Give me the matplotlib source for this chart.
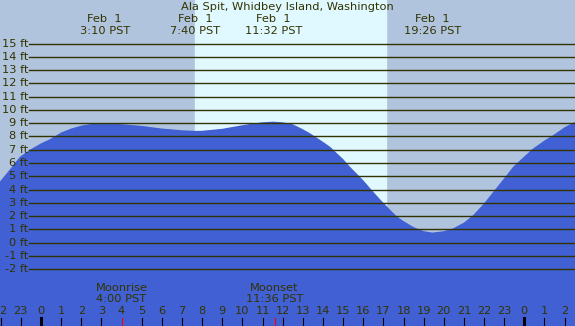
import numpy as np
import matplotlib.pyplot as plt

# tide heights (ft), hours relative to midnight Feb 1
hours = [-2.04, -1.5, -1.04, -0.55, 0, 0.45, 1, 1.5, 2, 2.5, 3, 3.5, 4, 5, 6, 7, 7.67, 8, 9, 10,
         10.5, 11, 11.53, 12, 12.5, 13, 13.36, 14, 14.35, 15, 15.34, 16, 16.34, 16.83, 17.33,
         17.66, 18, 18.49, 19, 19.43, 20, 20.47, 21, 21.47, 22, 22.46, 23, 23.45, 24, 24.44,
         25, 25.44, 26, 26.52]
heights = [4.6, 5.6, 6.48, 7.0, 7.48, 7.8, 8.3, 8.6, 8.82, 8.95, 9.0, 8.98, 8.93, 8.8, 8.6, 8.47,
           8.42, 8.43, 8.58, 8.85, 8.97, 9.07, 9.12, 9.07, 8.92, 8.55, 8.24, 7.6, 7.23, 6.3,
           5.72, 4.7, 4.1, 3.27, 2.48, 1.98, 1.62, 1.17, 0.86, 0.75, 0.85, 1.07, 1.5, 2.08,
           2.95, 3.83, 4.85, 5.72, 6.5, 7.1, 7.7, 8.11, 8.7, 9.1]

title = "Ala Spit, Whidbey Island, Washington"
event_hours = [3 + 10/60, 7 + 40/60, 11 + 32/60, 19 + 26/60]
event_labels = ["3:10 PST", "7:40 PST", "11:32 PST", "19:26 PST"]
sunrise, sunset = 7 + 40/60, 17.13
moon_hours = [4.0, 11 + 36/60]
moon_names = ["Moonrise", "Moonset"]
moon_times = ["4:00 PST", "11:36 PST"]
ft_levels = list(range(-2, 16))
tick_hours = list(range(-2, 27))

night = '#b0c4de'
day = '#e0f8ff'
water = '#4060d4'
ink = '#333300'

fig = plt.figure(figsize=(5.75, 3.26), dpi=100)
ax = fig.add_axes([0, 0, 1, 1])
x0, x1 = -2.036, 26.515
y0, y1 = -6.30, 18.30
ax.set_xlim(x0, x1)
ax.set_ylim(y0, y1)
ax.axis('off')

ax.axvspan(x0, x1, color=night, zorder=0)
ax.axvspan(sunrise, sunset, color=day, zorder=0)
ax.fill_between(hours, heights, y0, color=water, lw=0, zorder=1)

fs = 8.2
for lv in ft_levels:
    ax.plot([-0.6, x1], [lv, lv], color=ink, lw=1.0, zorder=2)
    ax.text(-0.64, lv, f"{lv} ft", ha='right', va='center', fontsize=fs, color=ink)

ax.text((x0 + x1) / 2, 17.78, title, ha='center', va='center', fontsize=fs, color=ink)
for h, lab in zip(event_hours, event_labels):
    ax.text(h, 16.9, "Feb  1", ha='center', va='center', fontsize=fs, color=ink)
    ax.text(h, 15.98, lab, ha='center', va='center', fontsize=fs, color=ink)

for h, nm, t in zip(moon_hours, moon_names, moon_times):
    ax.text(h, -3.43, nm, ha='center', va='center', fontsize=fs, color=ink)
    ax.text(h, -4.26, t, ha='center', va='center', fontsize=fs, color=ink)
    ax.plot([h, h], [-5.7, y0], color='red', lw=0.8, zorder=3)

for h in tick_hours:
    ax.text(h, -5.2, str(h % 24), ha='center', va='center', fontsize=fs, color=ink)
    if h % 24 == 0:
        ax.plot([h, h], [-5.7, y0], color='black', lw=2.2, zorder=3)
    elif h not in moon_hours:
        ax.plot([h, h], [-5.7, y0], color='black', lw=0.8, zorder=3)

fig.savefig('out.png', dpi=100)
